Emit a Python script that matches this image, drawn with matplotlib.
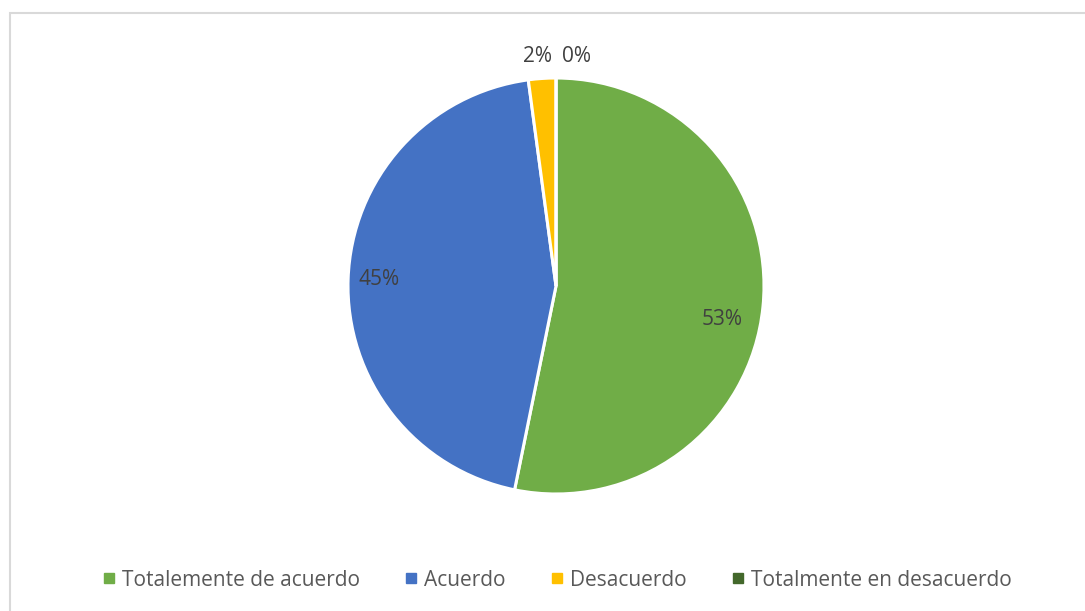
import matplotlib
matplotlib.use("Agg")
import matplotlib.pyplot as plt
from matplotlib.patches import Rectangle
from matplotlib.lines import Line2D

categories = ["Totalemente de acuerdo", "Acuerdo", "Desacuerdo", "Totalmente en desacuerdo"]
counts = [25, 21, 1, 0]
colors = ["#70AD47", "#4472C4", "#FFC000", "#43682B"]

plt.rcParams["font.family"] = ["Open Sans", "DejaVu Sans"]

W, H = 1085, 611
fig = plt.figure(figsize=(W / 100, H / 100), dpi=100)
fig.patch.set_facecolor("white")

# chart-area frame
fig.patches.append(Rectangle((10 / W, -0.05), 1.2, (H - 13) / H + 0.05,
                             transform=fig.transFigure, fill=False,
                             edgecolor="#D9D9D9", linewidth=1.5))

cx, cy, r = 556, 286, 208
ax = fig.add_axes([(cx - r) / W, (H - cy - r) / H, 2 * r / W, 2 * r / H])

total = sum(counts)
wedges, _ = ax.pie(counts, colors=colors, startangle=90, counterclock=False,
                   radius=1, normalize=True,
                   wedgeprops=dict(edgecolor="white", linewidth=2.2))
ax.set_xlim(-1, 1)
ax.set_ylim(-1, 1)
ax.axis("off")

pcts = [round(100 * c / total) for c in counts]
label_pos = [(0.80, -0.16), (-0.85, 0.03), (-0.087, 1.105), (0.10, 1.105)]
for p, (lx, ly) in zip(pcts, label_pos):
    ax.text(lx, ly, f"{p}%", ha="center", va="center", fontsize=15,
            color="#404040", clip_on=False)

handles = [Line2D([0], [0], marker="s", linestyle="none", markersize=6.5,
                  markerfacecolor=c, markeredgecolor=c) for c in colors]
fig.legend(handles, categories, loc="center", bbox_to_anchor=(558 / W, 1 - 580 / H),
           ncol=4, frameon=False, fontsize=15, handlelength=0.45,
           handletextpad=0.4, columnspacing=2.25, labelcolor="#595959")

fig.savefig("out.png", dpi=100, facecolor="white")
